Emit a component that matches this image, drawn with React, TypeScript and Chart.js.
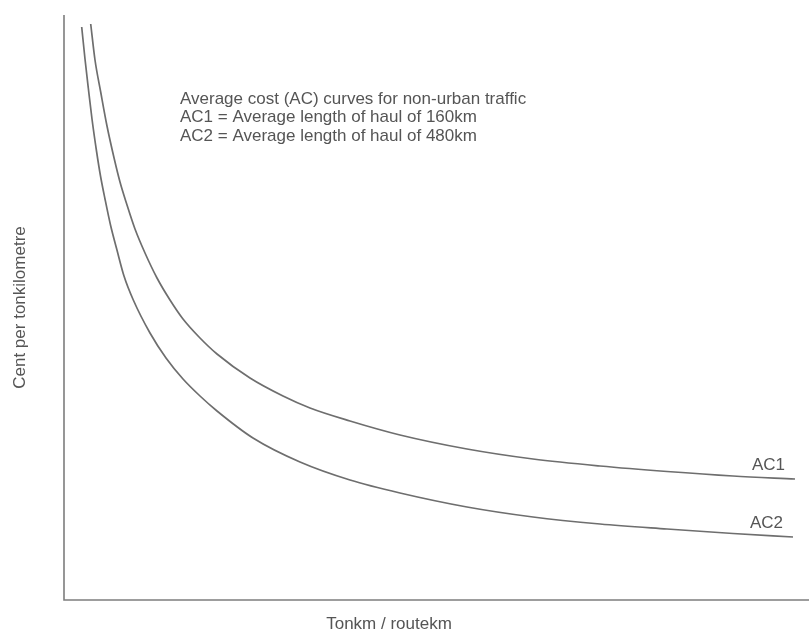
import React, { useEffect, useRef } from "react";
import { Chart, registerables } from "chart.js";

Chart.register(...registerables);

// Output (Tonkm / routekm), in arbitrary units along the x axis; cost in arbitrary units
const ac1X = [26.7, 31, 36.7, 43, 50.3, 56, 62.7, 71, 81, 93, 106, 119, 136, 153, 186, 219, 246, 286, 336, 403, 469, 536, 603, 669, 731];
const ac1Y = [576, 540, 508, 474, 441, 418, 396, 371, 347, 322, 300, 281, 262, 246, 222, 204, 192, 179, 165, 151, 141, 134, 128.5, 124, 121];
const ac2X = [17.7, 21, 24.3, 28, 32.5, 36.5, 41, 46.5, 52.7, 60, 69.3, 86, 102, 119, 136, 153, 189, 236, 286, 336, 403, 469, 536, 603, 669, 729];
const ac2Y = [573, 541, 512, 481, 449, 424, 401, 375, 351, 324, 300, 267, 242, 221, 204, 189, 162, 138, 120, 107, 93, 83, 76, 71, 66.5, 63];

const seriesLabels = ["AC1", "AC2"];
const xTitle = "Tonkm / routekm";
const yTitle = "Cent per tonkilometre";
const noteLines = [
  "Average cost (AC) curves for non-urban traffic",
  "AC1 = Average length of haul of 160km",
  "AC2 = Average length of haul of 480km",
];

const TEXT = "#555555";
const LINE = "#6e6e6e";
const AXIS = "#7d7d7d";
const FONT = '17px "Liberation Sans", Arial, sans-serif';

export default function App() {
  const ref = useRef<HTMLCanvasElement | null>(null);

  useEffect(() => {
    document.body.style.margin = "0";
    const canvas = ref.current;
    if (!canvas) return;

    const decor = {
      id: "decor",
      afterDraw(chart: any) {
        const { ctx, chartArea } = chart;
        const { left, right, top, bottom } = chartArea;
        ctx.save();
        // axes
        ctx.strokeStyle = AXIS;
        ctx.lineWidth = 1.6;
        ctx.beginPath();
        ctx.moveTo(left, top);
        ctx.lineTo(left, bottom);
        ctx.lineTo(right, bottom);
        ctx.stroke();

        ctx.fillStyle = TEXT;
        ctx.font = FONT;
        // note
        ctx.textAlign = "left";
        ctx.textBaseline = "alphabetic";
        const noteBase = [103.5, 122, 140.5];
        noteLines.forEach((t, i) => ctx.fillText(t, 180, noteBase[i]));

        // series labels near line ends
        const xs = chart.scales.x;
        const ys = chart.scales.y;
        const ends = [
          { label: seriesLabels[0], x: ac1X[ac1X.length - 1], y: ac1Y[ac1Y.length - 1] },
          { label: seriesLabels[1], x: ac2X[ac2X.length - 1], y: ac2Y[ac2Y.length - 1] },
        ];
        ctx.textAlign = "right";
        ends.forEach((e) => {
          ctx.fillText(e.label, xs.getPixelForValue(e.x) - 10, ys.getPixelForValue(e.y) - 9);
        });

        // axis titles
        ctx.textAlign = "center";
        ctx.fillText(xTitle, 389, 629);
        ctx.save();
        ctx.translate(20, (top + bottom) / 2);
        ctx.rotate(-Math.PI / 2);
        ctx.textBaseline = "middle";
        ctx.fillText(yTitle, 0, 0);
        ctx.restore();
        ctx.restore();
      },
    };

    const chart = new Chart(canvas, {
      type: "line",
      data: {
        datasets: [
          {
            label: seriesLabels[0],
            data: ac1X.map((x, i) => ({ x, y: ac1Y[i] })),
            borderColor: LINE,
            borderWidth: 1.7,
            pointRadius: 0,
            cubicInterpolationMode: "monotone",
            fill: false,
          },
          {
            label: seriesLabels[1],
            data: ac2X.map((x, i) => ({ x, y: ac2Y[i] })),
            borderColor: LINE,
            borderWidth: 1.7,
            pointRadius: 0,
            cubicInterpolationMode: "monotone",
            fill: false,
          },
        ],
      },
      options: {
        animation: false,
        responsive: false,
        devicePixelRatio: 1,
        layout: { padding: { left: 64, top: 15, right: 0, bottom: 33 } },
        plugins: { legend: { display: false }, tooltip: { enabled: false } },
        scales: {
          x: { type: "linear", min: 0, max: 745, display: false },
          y: { type: "linear", min: 0, max: 585, display: false },
        },
      },
      plugins: [decor],
    } as any);

    return () => chart.destroy();
  }, []);

  return (
    <div style={{ width: 809, height: 633, background: "#fff" }}>
      <canvas ref={ref} width={809} height={633} style={{ display: "block" }} />
    </div>
  );
}
